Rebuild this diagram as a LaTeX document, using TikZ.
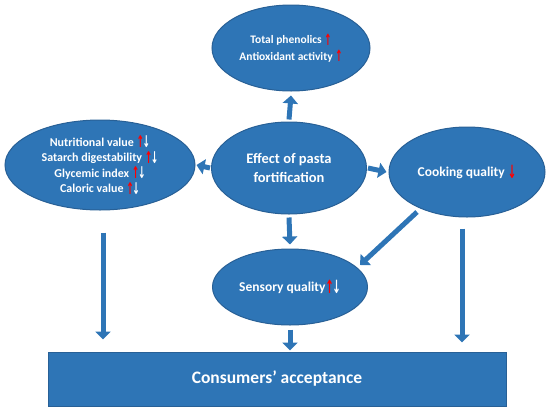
\documentclass[tikz,border=0pt]{standalone}
\usepackage{fontspec}
\setmainfont{Carlito}
\newfontfamily\symfont{DejaVu Sans}
\usetikzlibrary{shapes.geometric,arrows.meta,calc}
\definecolor{bfill}{RGB}{46,117,182}
\definecolor{bdraw}{RGB}{40,96,150}
\newcommand{\arr}[2]{\raisebox{-0.1em}{\scalebox{0.75}[1.35]{\symfont\textcolor{#1}{#2}}}}
\newcommand{\up}{\arr{red}{↑}}
\newcommand{\dnr}{\arr{red}{↓}}
\newcommand{\ud}{\arr{red}{↑}\kern-0.12em\arr{white}{↓}}
\begin{document}
\begin{tikzpicture}[x=1pt,y=-1pt,
  ell/.style={ellipse,draw=bdraw,line width=1pt,fill=bfill,inner sep=0pt,text=white,font=\bfseries,align=center},
  blk/.style={draw=bfill,line width=5pt,-{Triangle[width=15pt,length=8pt]},color=bfill}]
\useasboundingbox (0,0) rectangle (550,413);
\node[ell,minimum width=158pt,minimum height=86pt,font=\bfseries\fontsize{11.5}{16.5}\selectfont] (t) at (291,48) {Total phenolics \up\\Antioxidant activity \up};
\node[ell,minimum width=190pt,minimum height=90pt,font=\bfseries\fontsize{12}{15.5}\selectfont] (l) at (100,165) {Nutritional value \ud\\Satarch digestability \ud\\Glycemic index \ud\\Caloric value \ud};
\node[ell,minimum width=155pt,minimum height=92pt,font=\bfseries\fontsize{14.5}{19}\selectfont] (c) at (289,168) {Effect of pasta\\fortification};
\node[ell,minimum width=156pt,minimum height=90pt,font=\bfseries\fontsize{13.5}{16}\selectfont] (rt) at (467,172) {Cooking quality \dnr};
\node[ell,minimum width=155pt,minimum height=76pt,font=\bfseries\fontsize{13.5}{16}\selectfont] (s) at (290,287) {Sensory quality\ud};
\node[draw=bdraw,line width=1pt,fill=bfill,minimum width=458pt,minimum height=54pt,inner sep=0pt,text=white,font=\bfseries\fontsize{17.5}{20}\selectfont] (r) at (277,379) {Consumers’ acceptance};
\draw[blk] (c.north) ++(0,-2) -- ($(t.south)+(0,4)$);
\draw[blk] (c.west) ++(-1,0) -- ($(l.east)+(1,0)$);
\draw[blk] (c.east) ++(1,0) -- ($(rt.west)+(-2,0)$);
\draw[blk] (c.south) ++(0,3) -- ($(s.north)+(0,-4)$);
\coordinate (dtail) at ($(rt.center)+(-50,40)$);
\coordinate (dhead) at ($(s.center)+(70,-22)$);
\draw[blk] (dtail) -- (dhead);
\draw[blk] ($(l.south)+(3,22)$) -- ($(l.south |- r.north)+(3,-12)$);
\draw[blk] (s.south) ++(0,4) -- ($(r.north)+(13,-1)$);
\draw[blk] ($(rt.south)+(-5,11)$) -- ($(rt.south |- r.north)+(-5,-9)$);
\end{tikzpicture}
\end{document}
